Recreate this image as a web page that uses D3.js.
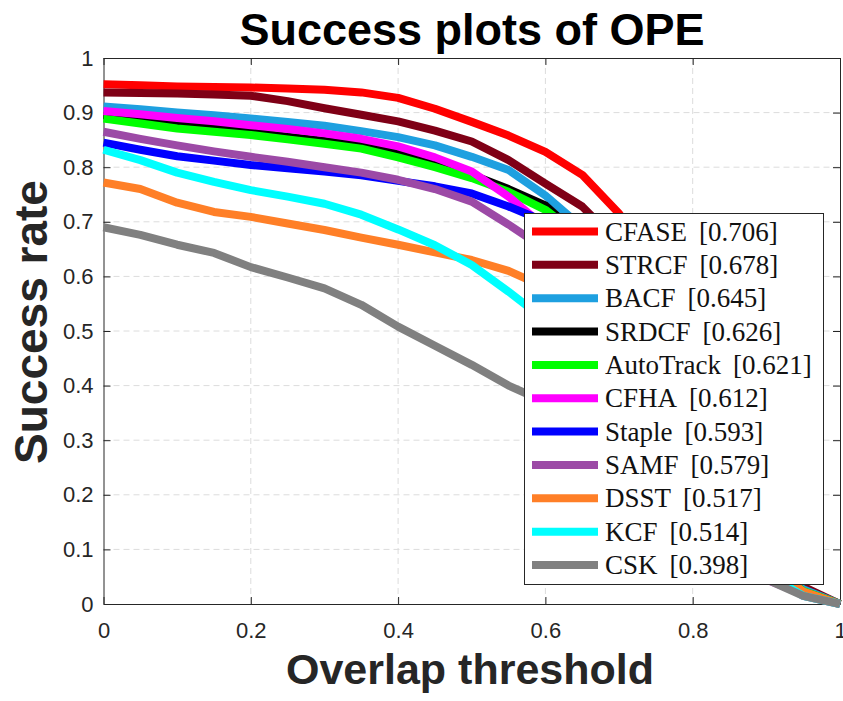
<!DOCTYPE html>
<html>
<head>
<meta charset="utf-8">
<script src="https://cdn.jsdelivr.net/npm/d3@7/dist/d3.min.js"></script>
<style>
  html, body { margin: 0; padding: 0; background: #fff; }
  svg { display: block; }
</style>
</head>
<body>
<svg id="chart" width="843" height="701"></svg>
<script>
// Overlap thresholds (x axis)
const thresholds = [0, 0.05, 0.1, 0.15, 0.2, 0.25, 0.3, 0.35, 0.4, 0.45, 0.5,
                    0.55, 0.6, 0.65, 0.7, 0.75, 0.8, 0.85, 0.9, 0.95, 1];

// Tracker names, AUC scores shown in the legend, and line colours
const trackers = ["CFASE", "STRCF", "BACF", "SRDCF", "AutoTrack", "CFHA",
                  "Staple", "SAMF", "DSST", "KCF", "CSK"];
const aucScores = ["0.706", "0.678", "0.645", "0.626", "0.621", "0.612",
                   "0.593", "0.579", "0.517", "0.514", "0.398"];
const colors = ["#ff0000", "#7f0016", "#1ea0e0", "#000000", "#00ff00", "#ff00ff",
                "#0000ff", "#9c4aa6", "#ff7f27", "#00ffff", "#808080"];

// Success rate per threshold for each tracker
const cfase     = [0.952,0.950,0.948,0.947,0.946,0.944,0.942,0.937,0.927,0.907,0.883,0.858,0.828,0.786,0.715,0.620,0.440,0.210,0.075,0.027,0];
const strcf     = [0.937,0.936,0.935,0.933,0.931,0.921,0.908,0.896,0.884,0.867,0.847,0.813,0.770,0.728,0.660,0.540,0.380,0.220,0.100,0.032,0];
const bacf      = [0.911,0.906,0.900,0.895,0.889,0.883,0.876,0.866,0.855,0.840,0.819,0.795,0.748,0.690,0.600,0.470,0.320,0.180,0.075,0.027,0];
const srdcf     = [0.895,0.888,0.880,0.872,0.864,0.856,0.848,0.840,0.830,0.812,0.786,0.760,0.730,0.670,0.590,0.450,0.310,0.180,0.080,0.023,0];
const autotrack = [0.889,0.880,0.871,0.865,0.859,0.851,0.843,0.834,0.818,0.800,0.780,0.755,0.722,0.670,0.580,0.450,0.310,0.170,0.070,0.024,0];
const cfha      = [0.903,0.897,0.890,0.884,0.877,0.870,0.862,0.852,0.838,0.818,0.792,0.746,0.690,0.620,0.520,0.380,0.230,0.120,0.045,0.018,0];
const staple    = [0.845,0.832,0.820,0.812,0.804,0.798,0.792,0.785,0.775,0.765,0.752,0.728,0.700,0.640,0.560,0.450,0.320,0.180,0.075,0.020,0];
const samf      = [0.865,0.852,0.840,0.829,0.819,0.810,0.800,0.790,0.777,0.760,0.737,0.695,0.650,0.580,0.490,0.380,0.260,0.150,0.060,0.015,0];
const dsst      = [0.772,0.760,0.735,0.718,0.709,0.697,0.685,0.671,0.658,0.644,0.630,0.610,0.580,0.540,0.470,0.400,0.300,0.180,0.075,0.023,0];
const kcf       = [0.832,0.813,0.790,0.773,0.758,0.746,0.733,0.713,0.686,0.657,0.621,0.572,0.520,0.460,0.390,0.310,0.220,0.130,0.055,0.015,0];
const csk       = [0.690,0.676,0.658,0.643,0.617,0.598,0.578,0.548,0.508,0.473,0.438,0.400,0.370,0.330,0.280,0.220,0.160,0.100,0.045,0.015,0];

const seriesValues = [cfase, strcf, bacf, srdcf, autotrack, cfha, staple, samf, dsst, kcf, csk];

// Tick labels
const xTicks = [0, 0.2, 0.4, 0.6, 0.8, 1];
const xTickLabels = ["0", "0.2", "0.4", "0.6", "0.8", "1"];
const yTicks = [0, 0.1, 0.2, 0.3, 0.4, 0.5, 0.6, 0.7, 0.8, 0.9, 1];
const yTickLabels = ["0", "0.1", "0.2", "0.3", "0.4", "0.5", "0.6", "0.7", "0.8", "0.9", "1"];

// ---- layout ----
const plot = { left: 103.5, right: 840, top: 58, bottom: 604 };
const axisColor = "#262626";
const sansFont = "'Liberation Sans', Arial, Helvetica, sans-serif";
const serifFont = "'Liberation Serif', 'Times New Roman', serif";

const svg = d3.select("#chart");

const x = d3.scaleLinear().domain([0, 1]).range([plot.left, plot.right]);
const y = d3.scaleLinear().domain([0, 1]).range([plot.bottom, plot.top]);

// Dashed grid
const grid = svg.append("g");
grid.selectAll("line.gx").data(xTicks.slice(1, -1)).join("line")
  .attr("x1", d => x(d)).attr("x2", d => x(d))
  .attr("y1", plot.top).attr("y2", plot.bottom)
  .attr("stroke", "#dcdcdc").attr("stroke-width", 1).attr("stroke-dasharray", "6,4");
grid.selectAll("line.gy").data(yTicks.slice(1, -1)).join("line")
  .attr("x1", plot.left).attr("x2", plot.right)
  .attr("y1", d => y(d)).attr("y2", d => y(d))
  .attr("stroke", "#dcdcdc").attr("stroke-width", 1).attr("stroke-dasharray", "6,4");

// Axes (ticks pointing inward, box on)
const tickLen = 7;
const xAxisBottom = d3.axisBottom(x).tickValues(xTicks).tickSizeInner(-tickLen).tickSizeOuter(0)
  .tickPadding(18).tickFormat((d, i) => xTickLabels[i]);
const xAxisTop = d3.axisTop(x).tickValues(xTicks).tickSizeInner(-tickLen).tickSizeOuter(0).tickFormat("");
const yAxisLeft = d3.axisLeft(y).tickValues(yTicks).tickSizeInner(-tickLen).tickSizeOuter(0)
  .tickPadding(10).tickFormat((d, i) => yTickLabels[i]);
const yAxisRight = d3.axisRight(y).tickValues(yTicks).tickSizeInner(-tickLen).tickSizeOuter(0).tickFormat("");

function styleAxis(g) {
  g.select(".domain").attr("stroke", axisColor).attr("stroke-width", 1);
  g.selectAll(".tick line").attr("stroke", axisColor).attr("stroke-width", 1);
  g.selectAll(".tick text").attr("fill", axisColor)
    .style("font-family", sansFont).style("font-size", "22px");
}

svg.append("g").attr("transform", `translate(0,${plot.bottom})`).call(xAxisBottom).call(styleAxis);
svg.append("g").attr("transform", `translate(0,${plot.top})`).call(xAxisTop).call(styleAxis);
svg.append("g").attr("transform", `translate(${plot.left},0)`).call(yAxisLeft).call(styleAxis);
svg.append("g").attr("transform", `translate(${plot.right},0)`).call(yAxisRight).call(styleAxis);

// Success curves
const line = d3.line()
  .x((d, i) => x(thresholds[i]))
  .y(d => y(d));

svg.append("g").selectAll("path").data(seriesValues).join("path")
  .attr("d", d => line(d))
  .attr("fill", "none")
  .attr("stroke", (d, i) => colors[i])
  .attr("stroke-width", 8)
  .attr("stroke-linejoin", "round")
  .attr("stroke-linecap", "butt");

// Title and axis labels
svg.append("text")
  .attr("x", 472).attr("y", 45)
  .attr("text-anchor", "middle")
  .style("font-family", sansFont).style("font-weight", "bold").style("font-size", "45px")
  .attr("fill", "#000")
  .text("Success plots of OPE");

svg.append("text")
  .attr("x", 470).attr("y", 684)
  .attr("text-anchor", "middle")
  .style("font-family", sansFont).style("font-weight", "bold").style("font-size", "43px")
  .attr("fill", axisColor)
  .text("Overlap threshold");

svg.append("text")
  .attr("transform", `translate(47,${(plot.top + plot.bottom) / 2 - 9}) rotate(-90)`)
  .attr("text-anchor", "middle")
  .style("font-family", sansFont).style("font-weight", "bold").style("font-size", "46px")
  .attr("fill", axisColor)
  .text("Success rate");

// Legend
const legend = { x: 524.5, y: 213.5, w: 299, h: 371, first: 231.5, step: 33.35 };
const lg = svg.append("g");
lg.append("rect")
  .attr("x", legend.x).attr("y", legend.y)
  .attr("width", legend.w).attr("height", legend.h)
  .attr("fill", "#fff").attr("stroke", axisColor).attr("stroke-width", 1);

const entries = lg.selectAll("g.entry").data(trackers).join("g")
  .attr("transform", (d, i) => `translate(0,${legend.first + i * legend.step})`);
entries.append("line")
  .attr("x1", 532).attr("x2", 598).attr("y1", 0).attr("y2", 0)
  .attr("stroke", (d, i) => colors[i]).attr("stroke-width", 8);
const labels = entries.append("text")
  .attr("x", 605).attr("y", 9)
  .style("font-family", serifFont).style("font-size", "27px")
  .attr("fill", "#111");
labels.append("tspan").text(d => d);
labels.append("tspan").attr("dx", 12).text((d, i) => `[${aucScores[i]}]`);
</script>
</body>
</html>
